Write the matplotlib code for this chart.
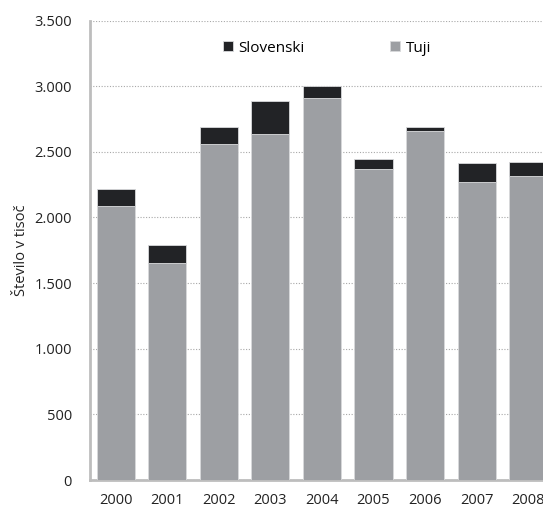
import numpy as np
import matplotlib
matplotlib.use("Agg")
import matplotlib.pyplot as plt
from matplotlib.ticker import FuncFormatter

years = ["2000", "2001", "2002", "2003", "2004", "2005", "2006", "2007", "2008"]
tuji = [2089, 1650, 2562, 2638, 2907, 2366, 2658, 2272, 2315]
slovenski = [127, 140, 127, 246, 98, 77, 31, 140, 105]

plt.rcParams['font.family'] = ['Open Sans', 'DejaVu Sans']

fig = plt.figure(figsize=(5.43, 5.08), dpi=100)
ax = fig.add_axes([0.1657, 0.0551, 0.8545, 0.9045])

x = np.arange(len(years))
ax.bar(x, tuji, width=0.74, color='#9d9fa3', edgecolor='#d8d9db', linewidth=0.6,
       label='Tuji', zorder=3)
ax.bar(x, slovenski, bottom=tuji, width=0.74, color='#222326', edgecolor='#d8d9db',
       linewidth=0.6, label='Slovenski', zorder=3)

ax.set_xlim(-0.5, 8.5)
ax.set_ylim(0, 3500)
ax.set_yticks(np.arange(0, 3501, 500))
ax.yaxis.set_major_formatter(FuncFormatter(lambda v, p: f"{int(v):,}".replace(",", ".")))
ax.set_xticks(x)
ax.set_xticklabels(years)
ax.tick_params(axis='both', length=0, labelsize=10.5, colors='#222222')
ax.tick_params(axis='y', pad=13)
ax.tick_params(axis='x', pad=9)

ax.yaxis.grid(True, linestyle=(0, (1, 1.5)), color='#a8a8a8', linewidth=0.8, zorder=0)
ax.set_axisbelow(True)
for s in ['top', 'right']:
    ax.spines[s].set_visible(False)
ax.spines['left'].set_color('#bdbdbd')
ax.spines['left'].set_linewidth(2)
ax.spines['bottom'].set_color('#bdbdbd')
ax.spines['bottom'].set_linewidth(2)

ax.set_ylabel("Število v tisoč", fontsize=10.5, labelpad=4, color='#222222')

h, l = ax.get_legend_handles_labels()
ax.legend(h[::-1], l[::-1], loc='center', bbox_to_anchor=(0.511, 0.94), ncol=2,
          frameon=False, fontsize=11, handlelength=0.65, handleheight=0.65,
          handletextpad=0.35, columnspacing=5.6)

fig.savefig("out.png", dpi=100)
